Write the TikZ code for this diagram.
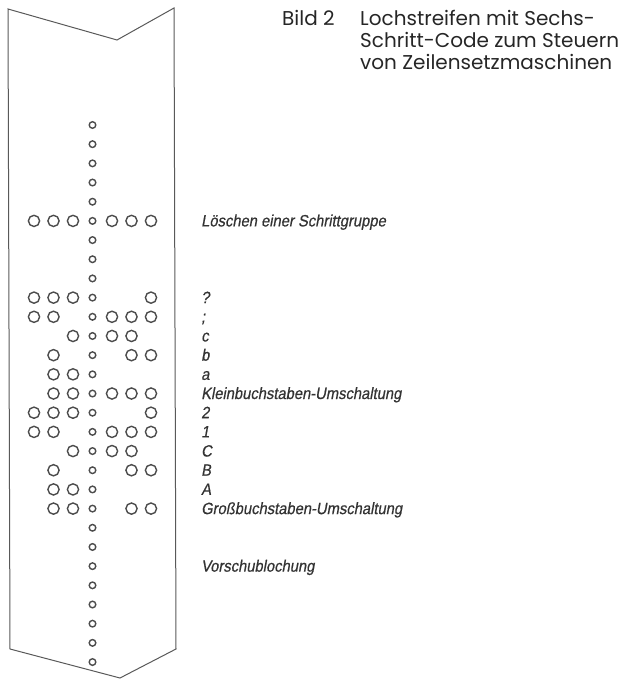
\documentclass[tikz,border=0pt]{standalone}
\usepackage{fontspec}
\newfontfamily\titlefont{Poppins}
\newfontfamily\codefont[FakeStretch=0.9,FakeSlant=0.18,FakeBold=0.6]{Liberation Sans}

\begin{document}
\begin{tikzpicture}[x=1pt,y=-1pt,
  hole/.style={draw=black!70,line width=1.4pt},
  codelabel/.style={anchor=base west,inner sep=0pt,text=black!80,
    font=\codefont\fontsize{16.4}{16}\selectfont}]
  \useasboundingbox (0,0) rectangle (627,680);
  \draw[black!65,line width=1pt]
    (8,9) -- (117,40) -- (174,8) -- (176,649) -- (120,678) -- (10,649) -- cycle;
  \foreach \r in {0,...,28}
    \draw[hole] (92.5,125+19.18*\r) circle (3.3);
  \foreach \r/\cols in {5/{1,2,3,5,6,7},9/{1,2,3,7},10/{1,2,5,6,7},
                        11/{3,5,6},12/{2,6,7},13/{2,3},14/{2,3,5,6,7},
                        15/{1,2,3,7},16/{1,2,5,6,7},17/{3,5,6},
                        18/{2,6,7},19/{2,3},20/{2,3,6,7}}
    \foreach \c in \cols
      \draw[hole] (14.5+19.5*\c,125+19.18*\r) circle (5.6);
  \foreach \r/\name/\txt in {5/loeschen/{Löschen einer Schrittgruppe},
      9/frage/?,10/semikolon/;,11/kc/c,12/kb/b,13/ka/a,
      14/klein/{Kleinbuchstaben-Umschaltung},15/zwei/2,16/eins/1,
      17/gc/C,18/gb/B,19/ga/A,20/gross/{Großbuchstaben-Umschaltung},
      23/vorschub/Vorschublochung}
    \node[codelabel] (\name) at (201,130.5+19.18*\r) {\txt};
  \node[anchor=base west,inner sep=0pt,text=black!85,
    font=\titlefont\fontsize{20}{20}\selectfont] (bild) at (282,25) {Bild 2};
  \node[anchor=north west,inner sep=0pt,align=left,text=black!85,
    font=\titlefont\fontsize{20}{22}\selectfont] (titel) at (360,10)
    {Lochstreifen mit Sechs-\\Schritt-Code zum Steuern\\von Zeilensetzmaschinen};
\end{tikzpicture}
\end{document}
